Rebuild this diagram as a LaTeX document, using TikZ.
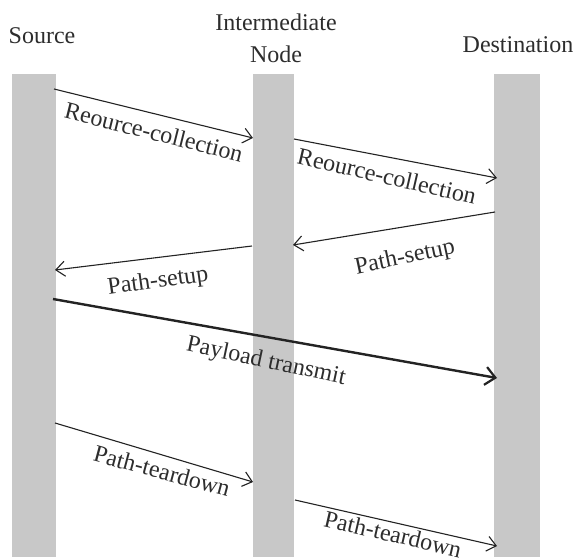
\documentclass[tikz,border=0pt]{standalone}
\usepackage{fontspec}
\setmainfont{Liberation Serif}
\usetikzlibrary{arrows.meta}
\definecolor{barcol}{RGB}{200,200,200}
\definecolor{inkcol}{RGB}{35,35,35}
\definecolor{txtcol}{RGB}{45,45,45}
\begin{document}
\begin{tikzpicture}[x=1pt,y=-1pt,
  lane/.style={fill=barcol, draw=none, inner sep=0pt, minimum height=483pt},
  msg/.style={draw=inkcol, line width=1.1pt, -{Straight Barb[length=9pt,width=15pt,line width=1.1pt]}},
  bigmsg/.style={draw=inkcol, line width=2.4pt, -{Straight Barb[length=10pt,width=18pt,line width=2.2pt]}},
  lbl/.style={font=\fontsize{24}{27}\selectfont, text=txtcol, inner sep=0pt},
  ttl/.style={font=\fontsize{24}{32}\selectfont, text=txtcol, inner sep=0pt, align=center}]
\useasboundingbox (0,0) rectangle (576,559);
\fill[white] (0,0) rectangle (576,559);
% lanes
\node[lane, minimum width=44pt] (srcbar) at (34,315.5) {};
\node[lane, minimum width=41pt] (midbar) at (273.5,315.5) {};
\node[lane, minimum width=46pt] (dstbar) at (517,315.5) {};
% titles
\node[ttl] (tsrc) at (42,36) {Source};
\node[ttl] (tmid) at (276,38) {Intermediate\\Node};
\node[ttl] (tdst) at (518,45) {Destination};
% endpoints
\coordinate (a1s) at (54,89);   \coordinate (a1e) at (253,138);
\coordinate (a2s) at (294,139); \coordinate (a2e) at (497,178);
\coordinate (a3s) at (495,212); \coordinate (a3e) at (293,245);
\coordinate (a4s) at (252,246); \coordinate (a4e) at (55,270);
\coordinate (a5s) at (53,299);  \coordinate (a5e) at (497,378);
\coordinate (a6s) at (55,423);  \coordinate (a6e) at (253,482);
\coordinate (a7s) at (295,500); \coordinate (a7e) at (497,546);
% arrows
\draw[msg] (a1s) -- (a1e);
\draw[msg] (a2s) -- (a2e);
\draw[msg] (a3s) -- (a3e);
\draw[msg] (a4s) -- (a4e);
\draw[bigmsg] (a5s) -- (a5e);
\draw[msg] (a6s) -- (a6e);
\draw[msg] (a7s) -- (a7e);
% labels
\node[lbl, rotate=-14] (l1) at (154,132) {Reource-collection};
\node[lbl, rotate=-13] (l2) at (387,176) {Reource-collection};
\node[lbl, rotate=12] (l3) at (405,258) {Path-setup};
\node[lbl, rotate=8] (l4) at (158,282) {Path-setup};
\node[lbl, rotate=-12] (l5) at (266,362) {Payload transmit};
\node[lbl, rotate=-15] (l6) at (162,471) {Path-teardown};
\node[lbl, rotate=-13] (l7) at (393,534) {Path-teardown};
\end{tikzpicture}
\end{document}
